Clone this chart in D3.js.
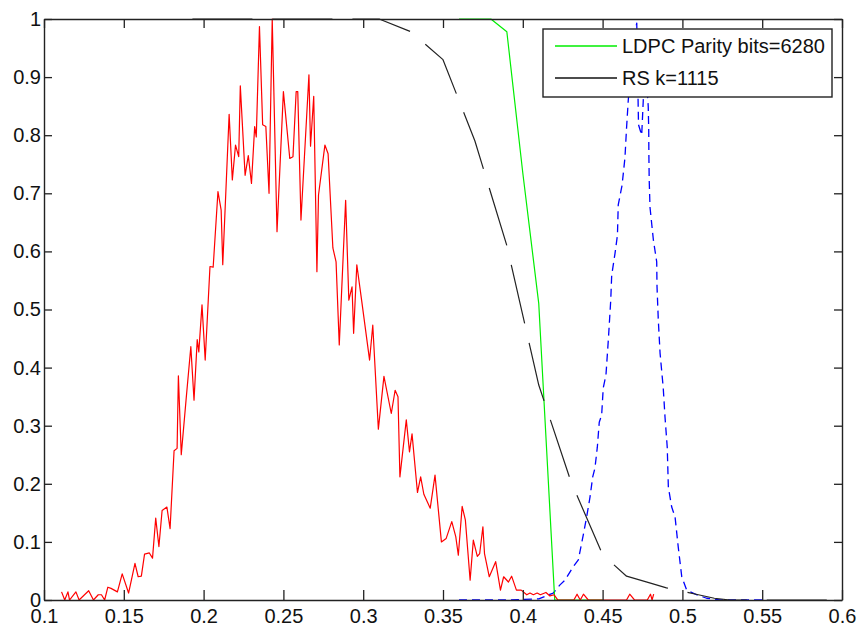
<!DOCTYPE html>
<html>
<head>
<meta charset="utf-8">
<script src="https://cdn.jsdelivr.net/npm/d3@7"></script>
<style>
	body { margin: 0; background: #fff; }
	svg { display: block; }
	.tick text { font-family: "Liberation Sans", Arial, sans-serif; font-size: 20px; fill: #111; }
	.legendLabel { font-family: "Liberation Sans", Arial, sans-serif; font-size: 20px; fill: #111; }
</style>
</head>
<body>
<div id="chart"></div>
<script>
var WIDTH = 859, HEIGHT = 630;

var xTicks = [0.1, 0.15, 0.2, 0.25, 0.3, 0.35, 0.4, 0.45, 0.5, 0.55, 0.6];
var yTicks = [0, 0.1, 0.2, 0.3, 0.4, 0.5, 0.6, 0.7, 0.8, 0.9, 1];

var legendNames = ["LDPC Parity bits=6280", "RS k=1115"];

// red noisy curve
var redX = [0.111,0.113,0.115,0.116,0.120,0.122,0.128,0.131,0.134,0.136,
	0.138,0.140,0.142,0.146,0.149,0.153,0.157,0.159,0.161,0.163,
	0.166,0.168,0.170,0.172,0.174,0.177,0.179,0.1815,0.1834,0.1842,
	0.186,0.189,0.192,0.194,0.196,0.197,0.199,0.201,0.204,0.206,
	0.209,0.211,0.212,0.216,0.218,0.220,0.222,0.223,0.226,0.228,
	0.230,0.232,0.233,0.235,0.237,0.239,0.241,0.243,0.246,0.250,
	0.254,0.256,0.258,0.259,0.261,0.266,0.267,0.269,0.271,0.272,
	0.276,0.278,0.281,0.283,0.285,0.289,0.291,0.293,0.294,0.296,
	0.299,0.304,0.306,0.3095,0.313,0.3176,0.320,0.3218,0.323,0.327,
	0.329,0.3306,0.334,0.336,0.338,0.342,0.345,0.349,0.352,0.3555,
	0.358,0.3596,0.362,0.364,0.367,0.369,0.3715,0.373,0.375,0.376,
	0.379,0.383,0.386,0.388,0.391,0.393,0.396,0.399,0.4025,0.4045,
	0.4066,0.409,0.411,0.4145,0.417,0.4196,0.422,0.432,0.434,0.436,
	0.438,0.441,0.465,0.467,0.470,0.478,0.480,0.481,0.482];
var redY = [0.014,0,0.014,0,0.014,0,0.016,0,0.009,0.009,
	0,0.022,0.020,0.014,0.045,0.012,0.063,0.040,0.041,0.079,
	0.081,0.072,0.141,0.092,0.154,0.160,0.123,0.257,0.261,0.386,
	0.250,0.344,0.436,0.344,0.448,0.427,0.508,0.413,0.574,0.573,
	0.703,0.671,0.577,0.836,0.723,0.783,0.763,0.885,0.731,0.765,
	0.717,0.815,0.797,0.987,0.818,0.815,0.700,1.0,0.634,0.875,
	0.760,0.763,0.875,0.875,0.654,0.904,0.781,0.867,0.565,0.697,
	0.783,0.768,0.606,0.582,0.439,0.688,0.516,0.539,0.459,0.577,
	0.516,0.413,0.473,0.294,0.385,0.321,0.361,0.350,0.212,0.310,
	0.255,0.286,0.185,0.212,0.182,0.158,0.215,0.100,0.106,0.135,
	0.109,0.077,0.161,0.138,0.034,0.103,0.075,0.080,0.126,0.080,
	0.040,0.066,0.017,0.040,0.031,0.041,0.017,0.017,0.009,0.012,
	0.009,0.012,0.009,0.013,0.007,0.009,0,0,0.01,0,
	0.01,0,0,0.01,0,0,0.01,0,0.01];

// blue dashed curve
var blueX = [0.36,0.39,0.41,0.4191,0.4233,0.4264,0.4315,0.4348,0.4379,0.4402,
	0.4421,0.4438,0.4452,0.4467,0.4479,0.4494,0.4504,0.4521,0.4536,0.4551,
	0.4557,0.4578,0.4593,0.4598,0.4622,0.4640,0.4650,0.4661,0.4678,0.4697,
	0.4714,0.4725,0.4745,0.4755,0.4768,0.4786,0.4789,0.4790,0.4792,0.4797,
	0.4818,0.4839,0.4841,0.4849,0.4860,0.4880,0.4891,0.4905,0.4912,0.4933,
	0.4954,0.4974,0.4996,0.5027,0.5090,0.5152,0.5236,0.55];
var blueY = [0,0,0.002,0.012,0.026,0.034,0.057,0.069,0.112,0.146,
	0.177,0.212,0.227,0.263,0.306,0.318,0.365,0.387,0.448,0.516,
	0.559,0.597,0.628,0.680,0.714,0.761,0.812,0.861,0.912,0.970,
	0.993,0.818,0.800,0.861,0.930,0.849,0.809,0.766,0.723,0.676,
	0.620,0.582,0.539,0.482,0.425,0.365,0.315,0.263,0.194,0.160,
	0.143,0.091,0.040,0.017,0.009,0.003,0,0];

// LDPC
var ldpcX = [0.36,0.37,0.38,0.39,0.40,0.41,0.42,0.43,0.44,0.45];
var ldpcY = [1,1,1,0.978,0.735,0.51,0,0,0,0];

// RS
var rsX = [0.193,0.31,0.33,0.35,0.37,0.39,0.41,0.43,0.45,0.465,0.48,0.49,0.50,0.51,0.52,0.53,0.6];
var rsY = [1,1,0.978,0.93,0.79,0.61,0.37,0.205,0.078,0.041,0.029,0.021,0.015,0.009,0.003,0,0];

var xScale = d3.scaleLinear().domain([0.1, 0.6]).range([44, 842]);
var yScale = d3.scaleLinear().domain([0, 1]).range([600, 19]);

var svg = d3.select("#chart")
	.append("svg")
	.attr("width", WIDTH)
	.attr("height", HEIGHT);

svg.append("defs").append("clipPath")
	.attr("id", "plotClip")
	.append("rect")
	.attr("x", xScale(0.1))
	.attr("y", yScale(1) - 1)
	.attr("width", xScale(0.6) - xScale(0.1))
	.attr("height", yScale(0) - yScale(1) + 1);

var line = d3.line()
	.x(function(d) { return xScale(d[0]); })
	.y(function(d) { return yScale(d[1]); });

var plot = svg.append("g").attr("clip-path", "url(#plotClip)");

function drawSeries(xs, ys, color, dash, width) {
	plot.append("path")
		.datum(d3.zip(xs, ys))
		.attr("d", line)
		.attr("fill", "none")
		.attr("stroke", color)
		.attr("stroke-width", width)
		.attr("stroke-dasharray", dash)
		.attr("stroke-linejoin", "round");
}

drawSeries(blueX, blueY, "#0000ff", "8,5", 1.3);
drawSeries(ldpcX, ldpcY, "#00ee00", null, 1.2);
drawSeries(rsX, rsY, "#222", "60,20", 1.2);
drawSeries(redX, redY, "#ff0000", null, 1.2);

///////////////////////// AXES ///////////////////////////////////////////////////////
function fmt(d) { return String(d); }

var axisStyle = function(g) {
	g.selectAll(".domain").attr("stroke", "#222").attr("stroke-width", 1.4);
	g.selectAll(".tick line").attr("stroke", "#222").attr("stroke-width", 1.3);
};

svg.append("g")
	.attr("transform", "translate(0," + yScale(0) + ")")
	.call(d3.axisBottom(xScale).tickValues(xTicks).tickFormat(fmt).tickSizeInner(-10).tickSizeOuter(0).tickPadding(9))
	.call(axisStyle);

svg.append("g")
	.attr("transform", "translate(0," + yScale(1) + ")")
	.call(d3.axisTop(xScale).tickValues(xTicks).tickFormat("").tickSizeInner(-9).tickSizeOuter(0))
	.call(axisStyle);

svg.append("g")
	.attr("transform", "translate(" + xScale(0.1) + ",0)")
	.call(d3.axisLeft(yScale).tickValues(yTicks).tickFormat(fmt).tickSizeInner(-8).tickSizeOuter(0).tickPadding(3))
	.call(axisStyle);

svg.append("g")
	.attr("transform", "translate(" + xScale(0.6) + ",0)")
	.call(d3.axisRight(yScale).tickValues(yTicks).tickFormat("").tickSizeInner(-8).tickSizeOuter(0))
	.call(axisStyle);

svg.selectAll(".tick text").attr("font-family", null).attr("font-size", null);

///////////////////////// LEGEND ///////////////////////////////////////////////////////
var legend = svg.append("g").attr("transform", "translate(543,29)");

legend.append("rect")
	.attr("width", 289)
	.attr("height", 68)
	.attr("fill", "#fff")
	.attr("stroke", "#222")
	.attr("stroke-width", 1.4);

var legendColors = ["#00ee00", "#111"];

legend.selectAll(".legendItem")
	.data(legendNames)
	.enter()
	.append("g")
	.attr("class", "legendItem")
	.attr("transform", function(d, i) { return "translate(0," + (17 + i * 32) + ")"; })
	.each(function(d, i) {
		var g = d3.select(this);
		g.append("line")
			.attr("x1", 12).attr("x2", 74)
			.attr("stroke", legendColors[i])
			.attr("stroke-width", 1.3);
		g.append("text")
			.attr("class", "legendLabel")
			.attr("x", 79)
			.attr("dy", "0.36em")
			.text(d);
	});
</script>
</body>
</html>
